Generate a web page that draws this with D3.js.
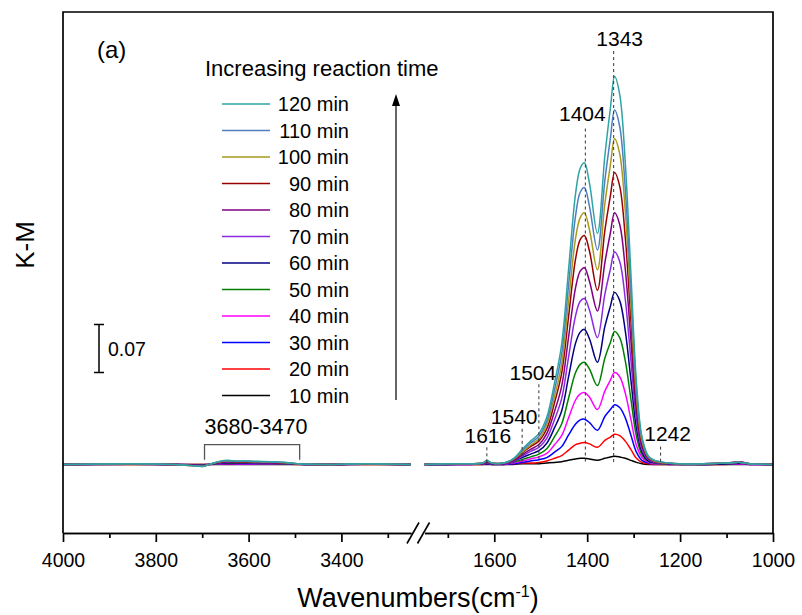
<!DOCTYPE html>
<html>
<head>
<meta charset="utf-8">
<script src="https://cdn.jsdelivr.net/npm/d3@7"></script>
<style>
  body { margin: 0; background: #fff; }
  svg text { font-family: "Liberation Sans", Arial, sans-serif; fill: #000; }
</style>
</head>
<body>
<div id="chart"></div>
<script>
const margin = { top: 12, right: 29, bottom: 82, left: 63 };
const width = 802 - margin.left - margin.right;   // 710
const height = 615 - margin.top - margin.bottom;  // 521

// series, 10 min first so that 120 min is drawn on top
const times = ["10 min", "20 min", "30 min", "40 min", "50 min", "60 min",
               "70 min", "80 min", "90 min", "100 min", "110 min", "120 min"];
const colors = ["#000000", "#ff0000", "#0000ff", "#ff00ff", "#008000", "#000080",
                "#8a2be2", "#800080", "#990000", "#a89a1e", "#4f7fbf", "#2fa3a3"];

// left segment (O-H region)
const wnLeft = [4000, 3850, 3760, 3720, 3700, 3685, 3665, 3645, 3625, 3605, 3580, 3550, 3520, 3495, 3470, 3420, 3350, 3250];
const kmLeft = [
  [0, 0, 0, 0, -.0001, 0, .0001, .0001, .0001, .0001, .0001, .0001, 0, 0, 0, 0, 0, 0],
  [0, 0, 0, -.0002, -.0002, 0, .0003, .0005, .0004, .0004, .0004, .0003, .0002, 0, 0, 0, 0, 0],
  [0, .0002, 0, -.0003, -.0005, 0, .0006, .0009, .0008, .0008, .0007, .0006, .0005, .0002, 0, 0, .0002, 0],
  [0, .0003, 0, -.0005, -.0007, 0, .001, .0014, .0012, .0012, .0011, .001, .0007, .0003, 0, 0, .0003, 0],
  [0, .0004, 0, -.0007, -.001, 0, .0014, .002, .0017, .0017, .0015, .0014, .001, .0004, 0, 0, .0004, 0],
  [0, .0005, 0, -.0009, -.0013, 0, .0018, .0026, .0022, .0022, .002, .0018, .0013, .0005, 0, 0, .0005, 0],
  [0, .0006, 0, -.001, -.0016, 0, .0022, .0033, .0028, .0028, .0025, .0022, .0016, .0006, 0, 0, .0006, 0],
  [0, .0008, 0, -.0013, -.002, 0, .0026, .004, .0033, .0033, .003, .0026, .002, .0007, 0, 0, .0007, 0],
  [0, .001, 0, -.0015, -.002, 0, .003, .0045, .0038, .0038, .0034, .003, .0022, .0008, 0, 0, .0008, 0],
  [0, .001, 0, -.002, -.0025, 0, .0035, .005, .0042, .0042, .0038, .0034, .0025, .001, 0, 0, .001, 0],
  [0, .001, 0, -.002, -.003, 0, .004, .0055, .0045, .0045, .004, .0036, .0027, .001, 0, 0, .001, 0],
  [0, .001, 0, -.002, -.003, 0, .004, .006, .005, .005, .0045, .004, .003, .001, .0005, 0, .001, 0]
];

// right segment (carbonate / formate region)
const wnRight = [1750, 1700, 1650, 1625, 1616, 1605, 1580, 1560, 1540, 1522, 1504, 1487, 1470, 1455, 1440,
                 1425, 1415, 1406, 1395, 1378, 1362, 1350, 1341, 1330, 1318, 1306, 1294, 1282, 1268,
                 1255, 1242, 1225, 1200, 1150, 1100, 1070, 1050, 1000];
const kmRight = [
  [0, 0, 0, 0, 0, 0, 0, 0, .001, .001, .001, .002, .003, .004, .006, .008, .009, .009, .008, .006,
   .009, .011, .012, .011, .009, .006, .003, .001, 0, 0, 0, 0, 0, 0, 0, 0, 0, 0],
  [0, 0, 0, 0, .001, 0, 0, .001, .002, .002, .003, .005, .009, .013, .021, .029, .031, .032, .030, .025,
   .035, .040, .044, .042, .034, .022, .009, .003, .001, 0, 0, 0, 0, 0, 0, .001, 0, 0],
  [0, 0, 0, .001, .001, 0, 0, .001, .003, .005, .007, .010, .018, .026, .043, .059, .065, .066, .061, .050,
   .070, .080, .087, .083, .068, .043, .018, .006, .002, .001, .001, 0, 0, 0, .001, .001, 0, 0],
  [0, 0, 0, .001, .002, .001, .001, .002, .005, .008, .011, .016, .029, .042, .068, .094, .103, .105, .098, .080,
   .107, .123, .134, .128, .104, .066, .028, .010, .003, .001, .001, .001, 0, 0, .001, .001, 0, 0],
  [0, 0, .001, .001, .002, .001, .001, .003, .007, .011, .015, .023, .041, .059, .097, .134, .146, .149, .139, .115,
   .155, .178, .194, .185, .151, .096, .041, .014, .004, .002, .001, .001, 0, 0, .001, .002, .001, 0],
  [0, 0, .001, .001, .003, .001, .001, .004, .010, .015, .020, .031, .054, .078, .128, .177, .193, .197, .183, .149,
   .201, .231, .251, .239, .195, .124, .053, .018, .005, .003, .002, .001, .001, 0, .001, .002, .001, 0],
  [0, .001, .001, .001, .003, .001, .001, .004, .012, .019, .025, .038, .066, .096, .157, .217, .238, .242, .225, .185,
   .248, .285, .310, .296, .241, .153, .066, .022, .007, .003, .002, .001, .001, .001, .002, .003, .001, 0],
  [0, .001, .001, .001, .004, .001, .001, .005, .014, .022, .029, .045, .078, .114, .186, .258, .282, .287, .267, .224,
   .294, .338, .367, .350, .285, .182, .078, .026, .008, .004, .003, .001, .001, .001, .002, .004, .001, 0],
  [0, .001, .001, .002, .004, .002, .002, .006, .017, .026, .034, .052, .091, .133, .216, .300, .328, .334, .311, .254,
   .341, .392, .426, .406, .331, .211, .090, .030, .009, .005, .003, .002, .001, .001, .002, .003, .001, 0],
  [0, .001, .001, .002, .005, .002, .002, .007, .018, .028, .037, .058, .100, .146, .238, .330, .360, .367, .342, .284,
   .380, .437, .475, .453, .369, .235, .101, .034, .010, .005, .003, .002, .001, .001, .002, .003, .001, 0],
  [0, .001, .001, .002, .005, .002, .002, .007, .020, .031, .041, .063, .110, .161, .262, .363, .397, .404, .376, .313,
   .414, .476, .517, .493, .402, .256, .110, .037, .011, .006, .004, .002, .001, .001, .002, .003, .001, 0],
  [0, .001, .001, .002, .006, .002, .002, .008, .022, .034, .045, .069, .120, .175, .285, .395, .432, .440, .410, .337,
   .450, .520, .566, .540, .440, .280, .120, .040, .012, .006, .004, .002, .001, .001, .002, .003, .001, 0]
];

// peak marks: wavenumber, top of dashed line (K-M units)
const markWn = [1616, 1540, 1504, 1404, 1343, 1242];
const markTop = [0.025, 0.052, 0.117, 0.49, 0.603, 0.026];

const leftTicks = [4000, 3800, 3600, 3400];
const leftMinor = [3900, 3700, 3500, 3300];
const rightTicks = [1600, 1400, 1200, 1000];
const rightMinor = [1700, 1500, 1300, 1100];

const bracketWn = [3695, 3490];
const scaleBar = [0.134, 0.204];

let svg = d3.select("#chart")
    .append("svg")
    .attr("width", 802)
    .attr("height", 615)
    .append("g")
    .attr("transform", `translate(${margin.left},${margin.top})`);

let xL = d3.scaleLinear().domain([4000, 3250]).range([0, 348]);
let xR = d3.scaleLinear().domain([1750, 1000]).range([361.6, width]);
let y = d3.scaleLinear().domain([-0.1, 0.66]).range([height, 0]);

// spectra
let lineL = d3.line()
    .x((d, i) => xL(wnLeft[i]))
    .y(d => y(d))
    .curve(d3.curveMonotoneX);
let lineR = d3.line()
    .x((d, i) => xR(wnRight[i]))
    .y(d => y(d))
    .curve(d3.curveCatmullRom.alpha(0.5));

times.forEach(function (t, k) {
    svg.append("path").attr("d", lineL(kmLeft[k]))
        .attr("fill", "none").attr("stroke", colors[k]).attr("stroke-width", 1.5);
    svg.append("path").attr("d", lineR(kmRight[k]))
        .attr("fill", "none").attr("stroke", colors[k]).attr("stroke-width", 1.5);
});

// dashed peak marks + labels
const labelDx = [1, -8, -6, -3, 6, 7];
const labelGap = [4, 5, 4, 8, 5, 6];
markWn.forEach(function (w, i) {
    svg.append("line")
        .attr("x1", xR(w)).attr("x2", xR(w))
        .attr("y1", y(markTop[i])).attr("y2", y(0))
        .attr("stroke", "#333").attr("stroke-width", 1)
        .attr("stroke-dasharray", "3,3");
    svg.append("text")
        .attr("x", xR(w) + labelDx[i])
        .attr("y", y(markTop[i]) - labelGap[i])
        .attr("text-anchor", "middle")
        .style("font-size", "21px")
        .text(w);
});

// bracket over the O-H band
let bTop = y(0.029), bEnd = y(0.007);
svg.append("path")
    .attr("d", `M${xL(bracketWn[0])},${bEnd}V${bTop}H${xL(bracketWn[1])}V${bEnd}`)
    .attr("fill", "none").attr("stroke", "#555").attr("stroke-width", 1.3);
svg.append("text")
    .attr("x", xL(bracketWn[0]))
    .attr("y", bTop - 11)
    .style("font-size", "21.5px")
    .text("3680-3470");

// scale bar
let sbX = 36;
svg.append("path")
    .attr("d", `M${sbX - 5},${y(scaleBar[1])}H${sbX + 5}M${sbX},${y(scaleBar[1])}V${y(scaleBar[0])}M${sbX - 5},${y(scaleBar[0])}H${sbX + 5}`)
    .attr("fill", "none").attr("stroke", "#000").attr("stroke-width", 1.5);
svg.append("text")
    .attr("x", sbX + 9)
    .attr("y", (y(scaleBar[0]) + y(scaleBar[1])) / 2 + 7)
    .style("font-size", "19.5px")
    .text((scaleBar[1] - scaleBar[0]).toFixed(2));

// frame: top, left, right
svg.append("path")
    .attr("d", `M0,${height}V0H${width}V${height}`)
    .attr("fill", "none").attr("stroke", "#000").attr("stroke-width", 1.7);

// bottom axes (broken)
function styleAxis(g) {
    g.selectAll("path, line").attr("stroke", "#000").attr("stroke-width", 1.7);
    g.selectAll("text").style("font-size", "19.5px").style("font-family", "Liberation Sans, Arial, sans-serif");
}
svg.append("g").attr("transform", `translate(0,${height})`)
    .call(d3.axisBottom(xL).tickValues(leftTicks).tickSize(9).tickSizeOuter(0).tickPadding(11).tickFormat(d3.format("d")))
    .call(styleAxis);
svg.append("g").attr("transform", `translate(0,${height})`)
    .call(d3.axisBottom(xL).tickValues(leftMinor).tickSize(5).tickSizeOuter(0).tickFormat(""))
    .call(styleAxis);
svg.append("g").attr("transform", `translate(0,${height})`)
    .call(d3.axisBottom(xR).tickValues(rightTicks).tickSize(9).tickSizeOuter(0).tickPadding(11).tickFormat(d3.format("d")))
    .call(styleAxis);
svg.append("g").attr("transform", `translate(0,${height})`)
    .call(d3.axisBottom(xR).tickValues(rightMinor).tickSize(5).tickSizeOuter(0).tickFormat(""))
    .call(styleAxis);

// break marks "//"
[350, 360.5].forEach(function (cx) {
    svg.append("line")
        .attr("x1", cx - 6).attr("y1", height + 10.5)
        .attr("x2", cx + 6).attr("y2", height - 10.5)
        .attr("stroke", "#000").attr("stroke-width", 1.6);
});

// axis titles
let xTitle = svg.append("text")
    .attr("x", 355).attr("y", 595)
    .attr("text-anchor", "middle")
    .style("font-size", "27px");
xTitle.append("tspan").text("Wavenumbers(cm");
xTitle.append("tspan").attr("dy", -10).style("font-size", "16px").text("-1");
xTitle.append("tspan").attr("dy", 10).text(")");

svg.append("text")
    .attr("transform", `translate(-29,${233}) rotate(-90)`)
    .attr("text-anchor", "middle")
    .style("font-size", "26px")
    .text("K-M");

svg.append("text")
    .attr("x", 34).attr("y", 46)
    .style("font-size", "24px")
    .text("(a)");

// legend
svg.append("text")
    .attr("x", 142).attr("y", 64)
    .style("font-size", "22px")
    .text("Increasing reaction time");

let legendTimes = times.slice().reverse();
let legendColors = colors.slice().reverse();
legendTimes.forEach(function (t, i) {
    let ly = 92 + i * 26.5;
    svg.append("line")
        .attr("x1", 159).attr("x2", 207)
        .attr("y1", ly).attr("y2", ly)
        .attr("stroke", legendColors[i]).attr("stroke-width", 1.5);
    svg.append("text")
        .attr("x", 286).attr("y", ly + 7)
        .attr("text-anchor", "end")
        .style("font-size", "20px")
        .text(t);
});

// arrow
svg.append("line")
    .attr("x1", 333).attr("x2", 333)
    .attr("y1", 388).attr("y2", 92)
    .attr("stroke", "#000").attr("stroke-width", 1.2);
svg.append("path")
    .attr("d", "M333,82L329,94L337,94Z")
    .attr("fill", "#000");
</script>
</body>
</html>
